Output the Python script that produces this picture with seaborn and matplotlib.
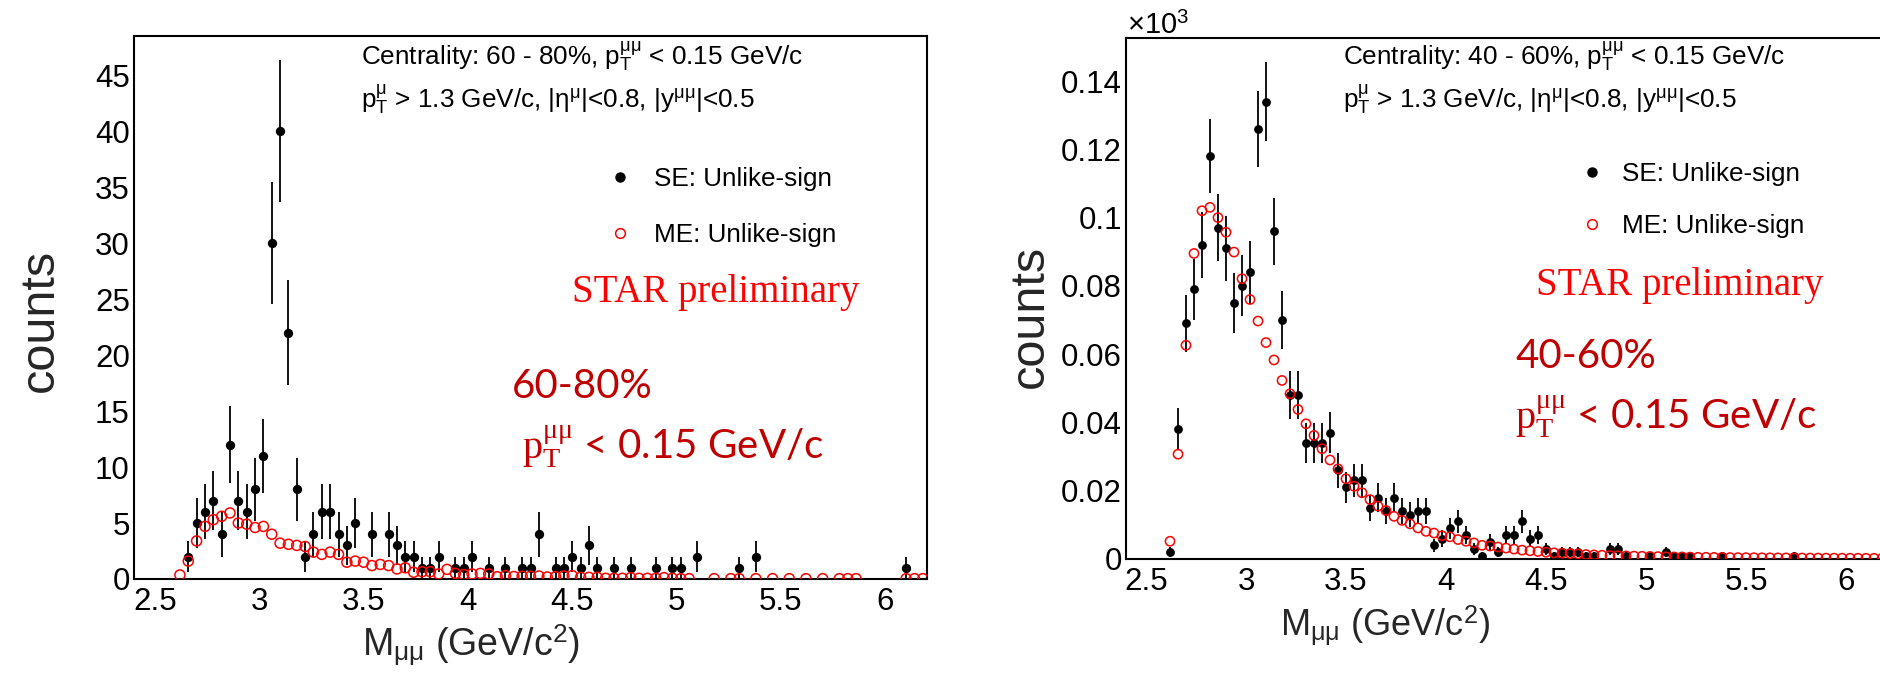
import matplotlib
matplotlib.use("Agg")
import matplotlib.pyplot as plt
from matplotlib.lines import Line2D
from matplotlib.ticker import MultipleLocator, FuncFormatter
import seaborn as sns

# ---------------- data: 60-80% centrality ----------------
se60_mass = [2.66, 2.70, 2.74, 2.78, 2.82, 2.86, 2.90, 2.94, 2.98, 3.02,
             3.06, 3.10, 3.14, 3.18, 3.22, 3.26, 3.30, 3.34, 3.38, 3.42,
             3.46, 3.54, 3.62, 3.66, 3.70, 3.74, 3.78, 3.82, 3.86, 3.94,
             3.98, 4.02, 4.10, 4.18, 4.26, 4.30, 4.34, 4.42, 4.46, 4.50,
             4.54, 4.58, 4.62, 4.70, 4.78, 4.90, 4.98, 5.02, 5.10, 5.30,
             5.38, 6.10]
se60_counts = [2, 5, 6, 7, 4, 12, 7, 6, 8, 11,
               30, 40, 22, 8, 2, 4, 6, 6, 4, 3,
               5, 4, 4, 3, 2, 2, 1, 1, 2, 1,
               1, 2, 1, 1, 1, 1, 4, 1, 1, 2,
               1, 3, 1, 1, 1, 1, 1, 1, 2, 1,
               2, 1]
se60_err = [1.41, 2.24, 2.45, 2.65, 2.00, 3.46, 2.65, 2.45, 2.83, 3.32,
            5.48, 6.32, 4.69, 2.83, 1.41, 2.00, 2.45, 2.45, 2.00, 1.73,
            2.24, 2.00, 2.00, 1.73, 1.41, 1.41, 1.00, 1.00, 1.41, 1.00,
            1.00, 1.41, 1.00, 1.00, 1.00, 1.00, 2.00, 1.00, 1.00, 1.41,
            1.00, 1.73, 1.00, 1.00, 1.00, 1.00, 1.00, 1.00, 1.41, 1.00,
            1.41, 1.00]

me60_mass = [2.62, 2.66, 2.70, 2.74, 2.78, 2.82, 2.86, 2.90, 2.94, 2.98, 3.02,
             3.06, 3.10, 3.14, 3.18, 3.22, 3.26, 3.30, 3.34, 3.38, 3.42, 3.46,
             3.50, 3.54, 3.58, 3.62, 3.66, 3.70, 3.74, 3.78, 3.82, 3.86, 3.90,
             3.94, 3.98, 4.02, 4.06, 4.10, 4.14, 4.18, 4.22, 4.26, 4.30, 4.34,
             4.38, 4.42, 4.46, 4.50, 4.54, 4.58, 4.62, 4.66, 4.70, 4.74, 4.78,
             4.82, 4.86, 4.90, 4.94, 4.98, 5.02, 5.06,
             5.18, 5.26, 5.30, 5.38, 5.46, 5.54, 5.62, 5.70, 5.78, 5.82, 5.86,
             6.10, 6.14, 6.18]
me60_counts = [0.36, 1.6, 3.4, 4.7, 5.3, 5.6, 5.9, 5.0, 4.9, 4.6, 4.7,
               4.0, 3.2, 3.1, 3.0, 2.9, 2.4, 2.2, 2.4, 2.2, 1.5, 1.6,
               1.5, 1.2, 1.3, 1.2, 0.9, 1.0, 0.6, 0.65, 0.65, 0.45, 0.86,
               0.5, 0.4, 0.45, 0.5, 0.45, 0.2, 0.3, 0.22, 0.25, 0.25, 0.27,
               0.18, 0.2, 0.27, 0.3, 0.15, 0.15, 0.15, 0.06, 0.06, 0.06, 0.12,
               0.06, 0.06, 0.06, 0.12, 0.06, 0.03, 0.03,
               0.03, 0.03, 0.03, 0.03, 0.03, 0.03, 0.03, 0.03, 0.03, 0.03, 0.03,
               0.03, 0.03, 0.03]

# ---------------- data: 40-60% centrality ----------------
se40_mass = [2.62, 2.66, 2.70, 2.74, 2.78, 2.82, 2.86, 2.90, 2.94, 2.98,
             3.02, 3.06, 3.10, 3.14, 3.18, 3.22, 3.26, 3.30, 3.34, 3.38,
             3.42, 3.46, 3.50, 3.54, 3.58, 3.62, 3.66, 3.70, 3.74, 3.78,
             3.82, 3.86, 3.90, 3.94, 3.98, 4.02, 4.06, 4.10, 4.14, 4.18,
             4.22, 4.26, 4.30, 4.34, 4.38, 4.42, 4.46, 4.50, 4.54, 4.58,
             4.62, 4.66, 4.70, 4.74, 4.82, 4.86, 4.90, 5.02, 5.10, 5.14,
             5.18, 5.22, 5.38, 5.74]
se40_counts = [2, 38, 69, 79, 92, 118, 97, 91, 75, 80,
               84, 126, 134, 96, 70, 48, 48, 34, 34, 34,
               37, 26, 21, 23, 23, 15, 18, 14, 18, 14,
               13, 14, 14, 4, 6, 9, 11, 7, 3, 1,
               5, 2, 7, 7, 11, 6, 7, 3, 1, 2,
               2, 2, 1, 1, 3, 3, 1, 1, 2, 1,
               1, 1, 1, 1]
se40_err = [1.41, 6.16, 8.31, 8.89, 9.59, 10.86, 9.85, 9.54, 8.66, 8.94,
            9.17, 11.22, 11.58, 9.80, 8.37, 6.93, 6.93, 5.83, 5.83, 5.83,
            6.08, 5.10, 4.58, 4.80, 4.80, 3.87, 4.24, 3.74, 4.24, 3.74,
            3.61, 3.74, 3.74, 2.00, 2.45, 3.00, 3.32, 2.65, 1.73, 1.00,
            2.24, 1.41, 2.65, 2.65, 3.32, 2.45, 2.65, 1.73, 1.00, 1.41,
            1.41, 1.41, 1.00, 1.00, 1.73, 1.73, 1.00, 1.00, 1.41, 1.00,
            1.00, 1.00, 1.00, 1.00]

me40_mass = [2.62, 2.66, 2.70, 2.74, 2.78, 2.82, 2.86, 2.90, 2.94, 2.98, 3.02,
             3.06, 3.10, 3.14, 3.18, 3.22, 3.26, 3.30, 3.34, 3.38, 3.42, 3.46,
             3.50, 3.54, 3.58, 3.62, 3.66, 3.70, 3.74, 3.78, 3.82, 3.86, 3.90,
             3.94, 3.98, 4.02, 4.06, 4.10, 4.14, 4.18, 4.22, 4.26, 4.30, 4.34,
             4.38, 4.42, 4.46, 4.50, 4.54, 4.58, 4.62, 4.66, 4.70, 4.74, 4.78,
             4.82, 4.86, 4.90, 4.94, 4.98, 5.02, 5.06, 5.10, 5.14, 5.18, 5.22,
             5.26, 5.30, 5.34, 5.38, 5.42, 5.46, 5.50, 5.54, 5.58, 5.62, 5.66,
             5.70, 5.74, 5.78, 5.82, 5.86, 5.90, 5.94, 5.98, 6.02, 6.06, 6.10,
             6.14, 6.18]
me40_counts = [5.2, 30.7, 62.6, 89.5, 102.0, 103.0, 100.0, 95.7, 89.9, 82.1, 76.0,
               69.7, 63.4, 58.3, 52.3, 48.4, 43.8, 39.6, 36.2, 32.3, 29.0, 26.4,
               23.5, 21.3, 19.4, 17.4, 15.5, 14.2, 12.5, 11.3, 10.3, 9.1, 8.1,
               7.6, 6.8, 6.5, 5.7, 5.2, 4.7, 4.0, 3.8, 3.5, 3.2, 2.9,
               2.6, 2.4, 2.2, 2.0, 1.8, 1.7, 1.6, 1.5, 1.3, 1.2, 1.1,
               1.0, 0.95, 0.9, 0.85, 0.8, 0.75, 0.7, 0.65, 0.6, 0.6, 0.55,
               0.5, 0.5, 0.48, 0.45, 0.42, 0.4, 0.4, 0.38, 0.36, 0.35, 0.33,
               0.32, 0.3, 0.3, 0.28, 0.27, 0.26, 0.25, 0.24, 0.23, 0.22, 0.21,
               0.2, 0.2]

# ---------------- style ----------------
sns.set_style("white")
plt.rcParams["font.family"] = ["Liberation Sans", "DejaVu Sans"]
plt.rcParams["mathtext.fontset"] = "custom"
plt.rcParams["mathtext.rm"] = "Liberation Serif"
plt.rcParams["mathtext.sf"] = "Liberation Sans"
plt.rcParams["mathtext.it"] = "Liberation Serif:italic"
plt.rcParams["mathtext.bf"] = "Liberation Serif:bold"
plt.rcParams["text.color"] = "black"
plt.rcParams["axes.edgecolor"] = "black"
plt.rcParams["xtick.color"] = "black"
plt.rcParams["ytick.color"] = "black"

W, H = 1880, 673
fig = plt.figure(figsize=(W / 100, H / 100), dpi=100)


def fx(px):
    return px / W


def fy(py):
    return 1 - py / H


DARK_RED = "#C00000"
TICK_FS = 22.5
INFO_FS = 18.8


def style_axes(ax, ymajor, yminor, ylen, xlen):
    for sp in ax.spines.values():
        sp.set_linewidth(1.5)
        sp.set_color("black")
    ax.xaxis.set_major_locator(MultipleLocator(0.5))
    ax.xaxis.set_minor_locator(MultipleLocator(0.1))
    ax.yaxis.set_major_locator(MultipleLocator(ymajor))
    ax.yaxis.set_minor_locator(MultipleLocator(yminor))
    ax.xaxis.set_major_formatter(FuncFormatter(lambda v, _: f"{v:g}"))
    ax.tick_params(axis="both", which="both", direction="in", top=False,
                   right=False, labelsize=TICK_FS, width=1.4)
    ax.tick_params(axis="y", which="major", length=ylen, pad=3)
    ax.tick_params(axis="y", which="minor", length=ylen / 2)
    ax.tick_params(axis="x", which="major", length=xlen, pad=6)
    ax.tick_params(axis="x", which="minor", length=xlen / 2)
    ax.set_xlim(2.4, 6.2)


def draw_points(ax, se_x, se_y, se_e, me_x, me_y, s_se, s_me):
    ax.errorbar(se_x, se_y, yerr=se_e, fmt="none", ecolor="black",
                elinewidth=1.3, capsize=0, zorder=2)
    sns.scatterplot(x=se_x, y=se_y, ax=ax, color="black", s=s_se,
                    linewidth=0, zorder=3, legend=False)
    sns.scatterplot(x=me_x, y=me_y, ax=ax, s=s_me, facecolors="none",
                    edgecolor="red", linewidth=1.1, zorder=4, legend=False)


def add_legend(ax, left_px, center_px, pad, spacing):
    handles = [
        Line2D([], [], marker="o", ls="none", color="black", markersize=6.5),
        Line2D([], [], marker="o", ls="none", markerfacecolor="none",
               markeredgecolor="red", markeredgewidth=1.1, markersize=7),
    ]
    ax.legend(handles, ["SE: Unlike-sign", "ME: Unlike-sign"],
              loc="center left", bbox_to_anchor=(fx(left_px), fy(center_px)),
              bbox_transform=fig.transFigure, frameon=False, fontsize=INFO_FS,
              handlelength=0.8, handletextpad=pad, labelspacing=spacing,
              borderpad=0, borderaxespad=0)


XLABEL = r"$\mathsf{M}_{\mathsf{μμ}}$ (GeV/$\mathsf{c}^{\mathsf{2}}$)"
PT_RED = r"$\mathrm{p}_{\mathrm{T}}^{\mathrm{μμ}}$ < 0.15 GeV/c"
CUTS = (r"$\mathsf{p}_{\mathsf{T}}^{\mathsf{μ}}$ > 1.3 GeV/c, "
        r"|$\mathsf{η}^{\mathsf{μ}}$|<0.8, |$\mathsf{y}^{\mathsf{μμ}}$|<0.5")

# ---------------- left panel: 60-80% ----------------
ax1 = fig.add_axes([fx(134), fy(579), fx(927) - fx(134), fy(36) - fy(579)])
draw_points(ax1, se60_mass, se60_counts, se60_err, me60_mass, me60_counts, 45, 52)
style_axes(ax1, 5, 1, 18.5, 10.8)
ax1.set_ylim(0, 48.5)
ax1.set_xlabel(XLABEL, fontsize=27, ha="left", va="baseline")
ax1.xaxis.set_label_coords((362 - 134) / 793, (579 - 656) / 543)
ax1.set_ylabel("counts", fontsize=35, va="center")
ax1.yaxis.set_label_coords((40 - 134) / 793, (579 - 320) / 543)
add_legend(ax1, 610, 207, 0.88, 1.2)

fig.text(fx(361), fy(65),
         r"Centrality: 60 - 80%, $\mathsf{p}_{\mathsf{T}}^{\mathsf{μμ}}$ < 0.15 GeV/c",
         fontsize=INFO_FS, va="baseline")
fig.text(fx(361), fy(108), CUTS, fontsize=INFO_FS, va="baseline")
fig.text(fx(572), fy(302), "STAR preliminary", family="Liberation Serif",
         fontsize=28, color="red", va="baseline")
fig.text(fx(512), fy(398), "60-80%", family="Lato", fontsize=29,
         color=DARK_RED, va="baseline")
fig.text(fx(522), fy(459), PT_RED, family="Lato", fontsize=29,
         color=DARK_RED, va="baseline")

# ---------------- right panel: 40-60% ----------------
ax2 = fig.add_axes([fx(1126), fy(559), fx(1886) - fx(1126), fy(38) - fy(559)])
draw_points(ax2, se40_mass, se40_counts, se40_err, me40_mass, me40_counts, 40, 44)
style_axes(ax2, 20, 5, 17.5, 10.0)
ax2.set_ylim(0, 152.6)
ax2.yaxis.set_major_formatter(FuncFormatter(lambda v, _: f"{v / 1000:g}"))
ax2.set_xlabel(XLABEL, fontsize=26, ha="left", va="baseline")
ax2.xaxis.set_label_coords((1280 - 1126) / 760, (559 - 636) / 521)
ax2.set_ylabel("counts", fontsize=35, va="center")
ax2.yaxis.set_label_coords((1030 - 1126) / 760, (559 - 316) / 521)
add_legend(ax2, 1582, 200, 0.73, 1.05)

fig.text(fx(1127), fy(34), r"×10$^{\mathsf{3}}$", fontsize=21, va="baseline")
fig.text(fx(1343), fy(65),
         r"Centrality: 40 - 60%, $\mathsf{p}_{\mathsf{T}}^{\mathsf{μμ}}$ < 0.15 GeV/c",
         fontsize=INFO_FS, va="baseline")
fig.text(fx(1343), fy(108), CUTS, fontsize=INFO_FS, va="baseline")
fig.text(fx(1536), fy(295), "STAR preliminary", family="Liberation Serif",
         fontsize=28, color="red", va="baseline")
fig.text(fx(1515), fy(368), "40-60%", family="Lato", fontsize=29,
         color=DARK_RED, va="baseline")
fig.text(fx(1515), fy(428), PT_RED, family="Lato", fontsize=29,
         color=DARK_RED, va="baseline")

fig.savefig("out.png", dpi=100)
